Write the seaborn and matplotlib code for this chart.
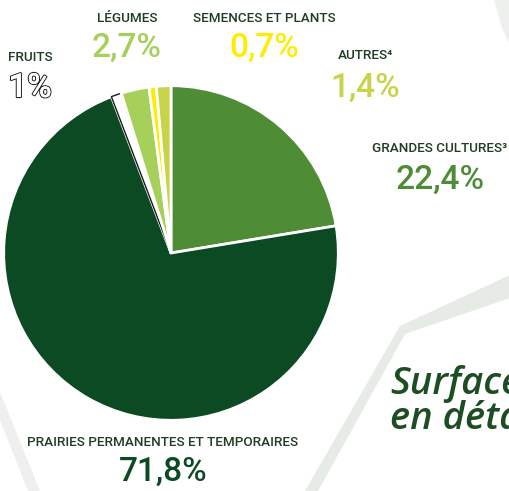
import seaborn as sns
import matplotlib.pyplot as plt
import matplotlib.patheffects as pe
from matplotlib.patches import Polygon

# data
categories = ["GRANDES CULTURES³", "PRAIRIES PERMANENTES ET TEMPORAIRES", "FRUITS",
              "LÉGUMES", "SEMENCES ET PLANTS", "AUTRES⁴"]
shares = [22.4, 71.8, 1.0, 2.7, 0.7, 1.4]
share_labels = ["22,4%", "71,8%", "1%", "2,7%", "0,7%", "1,4%"]
colors = ["#4e8c35", "#0b4a22", "#ffffff", "#a6d05a", "#ffec00", "#c9d34a"]

sns.set_theme(style="white")
plt.rcParams['font.family'] = ['Roboto', 'DejaVu Sans']

W, H = 510, 491
fig = plt.figure(figsize=(W / 100, H / 100), dpi=100)
fig.patch.set_facecolor("white")

# background shading (subtle grey folds)
bg = fig.add_axes([0, 0, 1, 1])
bg.set_xlim(0, W)
bg.set_ylim(H, 0)
bg.axis("off")
shade = dict(closed=True, edgecolor="none", alpha=0.55)
bg.add_patch(Polygon([[400, 326], [510, 275], [510, 298], [405, 334]],
                     facecolor="#d3dbd3", **shade))
bg.add_patch(Polygon([[400, 326], [405, 334], [318, 491], [305, 491]],
                     facecolor="#d3dbd3", **shade))
bg.add_patch(Polygon([[0, 392], [0, 420], [28, 491], [40, 491]],
                     facecolor="#dfe4df", **shade))
bg.add_patch(Polygon([[494, 0], [510, 0], [510, 45], [502, 28]],
                     facecolor="#dfe4df", **shade))

# pie
cx, cy, r = 171, 253, 169
ax = fig.add_axes([(cx - r) / W, (H - cy - r) / H, 2 * r / W, 2 * r / H])
wedges, _ = ax.pie(shares, colors=colors, startangle=90, counterclock=False,
                   radius=0.99,
                   wedgeprops=dict(edgecolor="white", linewidth=2))
wedges[2].set_edgecolor("#1a1a1a")
wedges[2].set_linewidth(1.0)
ax.set_xlim(-1, 1)
ax.set_ylim(-1, 1)
ax.set_aspect("equal")
ax.axis("off")

# labels
name_color = "#1f3d22"
label_pos = [(440, 148, 180), (163, 443, 472), (30, 57, 88),
             (127, 18, 48), (264, 18, 48), (365, 55, 88)]
value_colors = ["#4e8c35", "#0b4a22", "#ffffff", "#a6d05a", "#ffec00", "#c9d34a"]
for name, val, (x, yn, yv), vc in zip(categories, share_labels, label_pos, value_colors):
    bg.text(x, yn, name, ha="center", va="center", fontsize=9.7, color=name_color,
            weight="medium")
    t = bg.text(x, yv, val, ha="center", va="center", fontsize=24, color=vc,
                weight="medium")
    if val == "1%":
        t.set_path_effects([pe.withStroke(linewidth=1.6, foreground="#222222"),
                            pe.Normal()])

# title fragment at the right edge
for y, line in [(384, "Surfaces"), (419, "en détail")]:
    bg.text(390, y, line, ha="left", va="center", fontsize=27.5,
            style="italic", weight="semibold", color="#1d4d22",
            family=['Open Sans', 'DejaVu Sans'])

fig.savefig("out.png", dpi=100, facecolor="white")
